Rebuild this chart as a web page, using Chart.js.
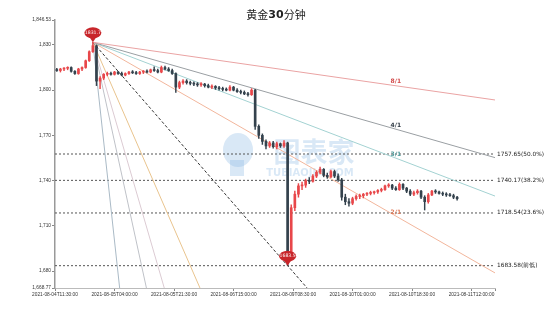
<!DOCTYPE html>
<html>
<head>
<meta charset="utf-8">
<script src="https://cdn.jsdelivr.net/npm/chart.js@4.4.1/dist/chart.umd.min.js"></script>
<style>
  html, body { margin: 0; padding: 0; background: #fff; }
  #wrap { width: 550px; height: 309px; }
</style>
</head>
<body>
<div id="wrap"><canvas id="goldChart"></canvas></div>
<script>
// hourly candles [open, high, low, close]; x index counts 30-minute bars
const candles = [
  [1813.5,1814.5,1812.5,1813],[1813,1814.5,1812,1814],[1814,1815,1813,1814.5],[1814.5,1815.5,1813.5,1815],
  [1815,1815.5,1812,1812.5],[1812.5,1813,1810.5,1811],[1811,1814.5,1810.5,1814],[1814,1815.5,1813,1815],
  [1815,1820,1814.5,1819.5],[1819.5,1826,1819,1825.5],[1825.5,1831.72,1825,1829.5],[1829.5,1830,1803,1806],
  [1806,1809,1801,1808],[1808,1811,1807,1810.5],[1810.5,1812,1809.5,1811],[1811,1812,1810,1810.5],
  [1810.5,1812.5,1810,1812],[1812,1812.5,1810.5,1811],[1811,1812,1809.5,1810],[1810,1811.5,1809.5,1811],
  [1811,1812.5,1810.5,1812],[1812,1813,1811,1811.5],[1811.5,1812.5,1810.5,1811],[1811,1812.5,1810.5,1812],
  [1812,1813,1811,1812.5],[1812.5,1813.5,1811.5,1812],[1812,1814,1811.5,1813.5],[1813.5,1815.5,1812.5,1813],
  [1813,1814,1811.5,1812],[1812,1816,1811.5,1815],[1815,1816,1813.5,1814],[1814,1815,1812.5,1813],
  [1813,1814,1810.5,1811],[1811,1811.5,1798.5,1802],[1802,1806,1801,1805],[1805,1807,1804,1806],
  [1806,1807,1804,1805],[1805,1806,1803.5,1804.5],[1804.5,1805.5,1803,1804],[1804,1805,1802.5,1803.5],
  [1803.5,1805,1802.5,1804],[1804,1804.5,1802,1803],[1803,1804,1801.5,1802],[1802,1803.5,1801,1802.5],
  [1802.5,1803,1800.5,1801.5],[1801.5,1802.5,1800,1801],[1801,1802,1799.5,1800.5],[1800.5,1801.5,1799.5,1800],
  [1800,1803,1799.5,1802],[1802,1802.5,1799.5,1800],[1800,1801,1798.5,1799],[1799,1800,1797.5,1798.5],
  [1798.5,1799.5,1797,1797.5],[1797.5,1798.5,1796,1797],[1797,1801,1796.5,1800],[1800,1800.5,1774,1776],
  [1776,1777,1768,1770],[1770,1771,1764,1766],[1766,1767,1761,1763],[1763,1766,1762,1765],
  [1765,1766,1761.5,1762.5],[1762.5,1765.5,1761,1764.5],[1764.5,1765,1762,1763],[1763,1766.5,1762,1765],
  [1765,1765.5,1683.58,1690],[1690,1724,1688,1722],[1722,1733,1720,1731],[1731,1738,1729,1736.5],
  [1736.5,1739,1734,1737],[1737,1741,1735.5,1740],[1740,1742,1738,1739.5],[1739.5,1744,1739,1743],
  [1743,1746.5,1742,1745.5],[1745.5,1749,1744.5,1747.5],[1747.5,1748,1742.5,1743.5],[1743.5,1745,1741.5,1742.5],
  [1742.5,1747,1742,1746],[1746,1747,1742,1743],[1743,1744.5,1739.5,1740.5],[1740.5,1741.5,1727,1729],
  [1729,1731,1724,1726],[1726,1728,1723,1725],[1725,1729,1724,1728],[1728,1730.5,1727,1729.5],
  [1729.5,1731,1728,1730],[1730,1731.5,1728.5,1731],[1731,1732,1730,1731.5],[1731.5,1733,1730.5,1732],
  [1732,1733,1731,1732.5],[1732.5,1734,1731.5,1733.5],[1733.5,1735,1732.5,1734],[1734,1737,1733.5,1736.5],
  [1736.5,1738,1735.5,1737],[1737,1737.5,1734,1735],[1735,1736,1733.5,1734],[1734,1738.5,1733.5,1737.5],
  [1737.5,1738,1734,1735],[1735,1735.5,1732,1733],[1733,1734,1730,1731],[1731,1733,1730,1732],
  [1732,1734,1731,1733],[1733,1733.5,1728,1729],[1729,1730,1720.5,1726],[1726,1731.5,1725,1730.5],
  [1730.5,1733.5,1730,1733],[1733,1734,1731.5,1732.5],[1732.5,1733,1731,1731.5],[1731.5,1732.5,1730,1731],
  [1731,1732,1729.5,1730.5],[1730.5,1731.5,1729.5,1730],[1730,1731,1728,1729],[1729,1729.5,1727,1728]
];

const xTickLabels = [
  "2021-08-04T11:30:00", "2021-08-05T04:00:00", "2021-08-05T21:30:00", "2021-08-06T15:00:00",
  "2021-08-09T08:30:00", "2021-08-10T01:00:00", "2021-08-10T18:30:00", "2021-08-11T12:00:00"
];
const xTickStep = 33;
const xMax = 244;
const yTicks = [1668.77, 1680, 1710, 1740, 1770, 1800, 1830, 1846.53];

const fibLevels = [1757.65, 1740.17, 1718.54, 1683.58];
const fibLabels = ["1757.65(50.0%)", "1740.17(38.2%)", "1718.54(23.6%)", "1683.58(前低)"];

const highIdx = 21, highPrice = 1831.72, highLabel = "1831.7";
const lowIdx = 129, lowPrice = 1683.58, lowLabel = "1683.5";

// gann fan: multiplier on the 1/1 slope (high to low)
const gannNames = ["8/1", "4/1", "3/1", "2/1", "1/1", "1/2", "1/3", "1/4", "1/8"];
const gannRatios = [1/8, 1/4, 1/3, 1/2, 1, 2, 3, 4, 8];
const gannColors = ["#eaa3a3", "#9a9fa3", "#a3d2d2", "#f2b69c", "#333333", "#e9c48e", "#dccbd3", "#bfc2c8", "#aabac6"];
const gannTextColors = ["#d24a4a", "#2f3a44", "#4f9d9d", "#e07a58"];
const gannLabelIdx = 189;

const UP = "#e8474a", DOWN = "#34424d";

const barIdx = candles.map((c, i) => 2 * i + 1);
const candleColors = candles.map(c => (c[3] >= c[0] ? UP : DOWN));

const unitSlope = (highPrice - lowPrice) / (lowIdx - highIdx);
const gannDatasets = gannRatios.map((r, i) => ({
  type: "line",
  data: [
    { x: highIdx, y: highPrice },
    { x: xMax, y: highPrice - unitSlope * r * (xMax - highIdx) }
  ],
  borderColor: gannColors[i],
  borderWidth: 1,
  borderDash: gannNames[i] === "1/1" ? [3, 2] : [],
  pointRadius: 0,
  fill: false,
  order: 3
}));

const fibDatasets = fibLevels.map(v => ({
  type: "line",
  data: [{ x: 0, y: v }, { x: xMax - 1, y: v }],
  borderColor: "#555",
  borderWidth: 1,
  borderDash: [2, 2],
  pointRadius: 0,
  fill: false,
  order: 4
}));

function balloon(ctx, x, yTip, text) {
  ctx.save();
  ctx.fillStyle = "#c8262b";
  ctx.beginPath();
  ctx.ellipse(x, yTip - 9.5, 8.5, 5.5, 0, 0, Math.PI * 2);
  ctx.fill();
  ctx.beginPath();
  ctx.moveTo(x - 4, yTip - 6);
  ctx.lineTo(x + 4, yTip - 6);
  ctx.lineTo(x, yTip);
  ctx.closePath();
  ctx.fill();
  ctx.fillStyle = "#fff";
  ctx.font = "4.6px 'DejaVu Sans'";
  ctx.textAlign = "center";
  ctx.textBaseline = "middle";
  ctx.fillText(text, x, yTip - 9.5);
  ctx.restore();
}

const overlayPlugin = {
  id: "overlay",
  beforeDatasetsDraw(chart) {
    const ctx = chart.ctx;
    ctx.save();
    ctx.fillStyle = "rgba(130,180,226,0.3)";
    ctx.textAlign = "center";
    ctx.textBaseline = "middle";
    ctx.font = "bold 27px 'Noto Sans CJK SC'";
    ctx.fillText("图表家", 314, 152);
    ctx.font = "bold 10px 'DejaVu Sans'";
    ctx.fillText("TUBIAOJIA.COM", 310, 173);
    // head-shaped logo
    ctx.beginPath();
    ctx.ellipse(238, 150, 15, 17, 0, 0, Math.PI * 2);
    ctx.fill();
    ctx.fillRect(230, 160, 14, 16);
    ctx.restore();
  },
  afterDatasetsDraw(chart) {
    const ctx = chart.ctx;
    const xs = chart.scales.x, ys = chart.scales.y;
    ctx.save();
    // fib labels
    ctx.fillStyle = "#222";
    ctx.font = "5.8px 'DejaVu Sans'";
    ctx.textAlign = "left";
    ctx.textBaseline = "middle";
    fibLevels.forEach((v, i) => {
      ctx.fillText(fibLabels[i], chart.chartArea.right + 2, ys.getPixelForValue(v));
    });
    // gann labels
    ctx.font = "bold 6px 'DejaVu Sans'";
    ctx.textAlign = "center";
    ctx.textBaseline = "bottom";
    for (let i = 0; i < 4; i++) {
      const yv = highPrice - unitSlope * gannRatios[i] * (gannLabelIdx - highIdx);
      ctx.fillStyle = gannTextColors[i];
      ctx.fillText(gannNames[i], xs.getPixelForValue(gannLabelIdx), ys.getPixelForValue(yv) - 1);
    }
    // title
    ctx.fillStyle = "#222";
    ctx.textBaseline = "middle";
    ctx.textAlign = "left";
    const t1 = "黄金", t2 = "30", t3 = "分钟";
    ctx.font = "11px 'Noto Sans CJK SC'";
    const w1 = ctx.measureText(t1).width, w3 = ctx.measureText(t3).width;
    ctx.font = "bold 11px 'DejaVu Sans'";
    const w2 = ctx.measureText(t2).width;
    let tx = 276 - (w1 + w2 + w3) / 2;
    ctx.font = "11px 'Noto Sans CJK SC'";
    ctx.fillText(t1, tx, 15);
    ctx.font = "bold 11px 'DejaVu Sans'";
    ctx.fillText(t2, tx + w1, 15);
    ctx.font = "11px 'Noto Sans CJK SC'";
    ctx.fillText(t3, tx + w1 + w2, 15);
    ctx.restore();
    // markers
    balloon(ctx, xs.getPixelForValue(highIdx), ys.getPixelForValue(highPrice), highLabel);
    balloon(ctx, xs.getPixelForValue(lowIdx), ys.getPixelForValue(lowPrice), lowLabel);
  }
};

new Chart(document.getElementById("goldChart"), {
  type: "bar",
  data: {
    datasets: [
      {
        data: candles.map((c, i) => ({ x: barIdx[i], y: [c[2], c[1]] })),
        backgroundColor: candleColors,
        barThickness: 0.8,
        grouped: false,
        order: 2
      },
      {
        data: candles.map((c, i) => ({ x: barIdx[i], y: [c[0], c[3]] })),
        backgroundColor: candleColors,
        barThickness: 2,
        minBarLength: 1,
        grouped: false,
        order: 1
      },
      ...gannDatasets,
      ...fibDatasets
    ]
  },
  options: {
    responsive: true,
    maintainAspectRatio: false,
    animation: false,
    layout: { padding: { top: 20, right: 55, left: 0, bottom: 0 } },
    plugins: { legend: { display: false }, tooltip: { enabled: false } },
    scales: {
      x: {
        type: "linear",
        min: 0,
        max: xMax,
        offset: false,
        grid: { drawOnChartArea: false, offset: false, tickLength: 3, color: "#888" },
        border: { color: "#bbb", width: 1 },
        afterBuildTicks: s => {
          const t = xTickLabels.map((l, i) => ({ value: i * xTickStep }));
          t.push({ value: xMax });
          s.ticks = t;
        },
        afterFit: s => { s.height = 21; },
        ticks: {
          autoSkip: false,
          maxRotation: 0,
          minRotation: 0,
          padding: 1,
          color: "#333",
          font: { family: "Liberation Sans", size: 4.8 },
          callback: v => (v % xTickStep === 0 && xTickLabels[v / xTickStep]) ? xTickLabels[v / xTickStep] : ""
        }
      },
      y: {
        min: yTicks[0],
        max: yTicks[yTicks.length - 1],
        grid: { drawOnChartArea: false, tickLength: 3, color: "#888" },
        border: { color: "#999", width: 1.5 },
        afterBuildTicks: s => { s.ticks = yTicks.map(v => ({ value: v })); },
        afterFit: s => { s.width = 55; },
        ticks: {
          padding: 1,
          color: "#333",
          font: { family: "Liberation Sans", size: 4.8 },
          callback: v => v.toLocaleString("en-US", { maximumFractionDigits: 2 })
        }
      }
    }
  },
  plugins: [overlayPlugin]
});
</script>
</body>
</html>
